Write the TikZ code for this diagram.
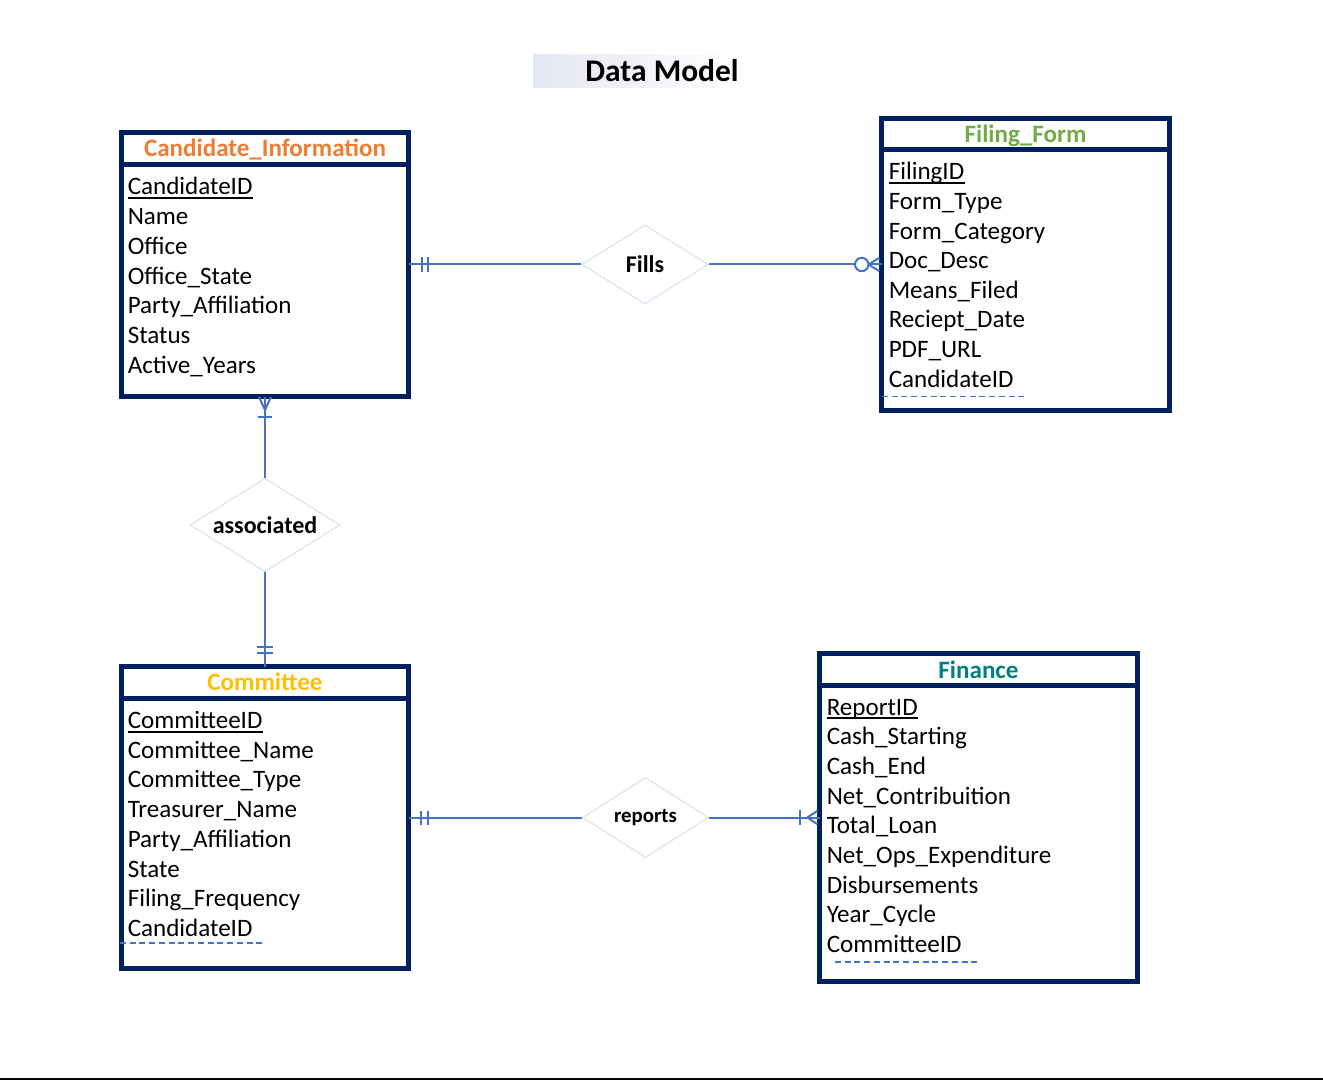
\documentclass[tikz,border=0pt]{standalone}
\usepackage{fontspec}
\setmainfont{Carlito}
\usetikzlibrary{shapes.geometric}
\definecolor{navy}{HTML}{002060}
\definecolor{conblue}{HTML}{4472C4}
\definecolor{hdorange}{HTML}{ED7D31}
\definecolor{hdgreen}{HTML}{70AD47}
\definecolor{hdgold}{HTML}{FFC000}
\definecolor{hdteal}{HTML}{008080}
\definecolor{dmline}{HTML}{DEDFF0}
\definecolor{titlebg}{HTML}{E4E6F2}
\begin{document}
\begin{tikzpicture}[x=0.75pt,y=-0.75pt,
  ebox/.style={draw=navy,line width=3.75pt,inner sep=0pt,outer sep=0pt,fill=white},
  hline/.style={draw=navy,line width=3.75pt},
  hdr/.style={anchor=base,inner sep=0pt,font=\fontsize{18.8}{22}\selectfont\bfseries},
  attr/.style={anchor=base west,inner sep=0pt,font=\fontsize{18.8}{22}\selectfont},
  uline/.style={draw=black,line width=1.5pt},
  fkline/.style={draw=conblue,line width=1.1pt,dash pattern=on 4.5pt off 2.8pt},
  rel/.style={shape=diamond,draw=dmline,line width=0.8pt,fill=white,inner sep=0pt,font=\fontsize{18}{22}\selectfont\bfseries},
  conn/.style={draw=conblue,line width=1.5pt},
  cmark/.style={draw=conblue,line width=1.5pt}
]
\useasboundingbox (0,0) rectangle (1323,1080);
% title
\shade[left color=titlebg,right color=white] (533,55) rectangle (740,88);
\node[anchor=base,inner sep=0pt,font=\fontsize{23.6}{28}\selectfont\bfseries] (title) at (662,82) {Data Model};
% bottom rule
\fill[black] (0,1078.3) rectangle (1323,1080);

% entity boxes
\node[ebox,minimum width=215.25pt,minimum height=198pt] (cand) at (265,264.5) {};
\node[ebox,minimum width=216pt,minimum height=219pt] (filing) at (1025.5,264.5) {};
\node[ebox,minimum width=215.25pt,minimum height=226.5pt] (comm) at (265,817.5) {};
\node[ebox,minimum width=238.5pt,minimum height=246pt] (fin) at (978.5,817.5) {};

% header separators
\draw[hline] (121.5,164.5) -- (408.5,164.5);
\draw[hline] (881.5,150) -- (1169.5,150);
\draw[hline] (121.5,698.5) -- (408.5,698.5);
\draw[hline] (819.5,685) -- (1137.5,685);

% headers
\node[hdr,text=hdorange] (candh) at (265,156.5) {Candidate\_Information};
\node[hdr,text=hdgreen] (filingh) at (1025.5,142.5) {Filing\_Form};
\node[hdr,text=hdgold] (commh) at (265,690.5) {Committee};
\node[hdr,text=hdteal] (finh) at (978.5,678.5) {Finance};

% attributes
\foreach \t [count=\i] in {CandidateID,Name,Office,Office\_State,Party\_Affiliation,Status,Active\_Years}
  \node[attr] (cand-\i) at (127.5,{195+(\i-1)*29.7}) {\t};
\foreach \t [count=\i] in {FilingID,Form\_Type,Form\_Category,Doc\_Desc,Means\_Filed,Reciept\_Date,PDF\_URL,CandidateID}
  \node[attr] (filing-\i) at (888.5,{180+(\i-1)*29.6}) {\t};
\foreach \t [count=\i] in {CommitteeID,Committee\_Name,Committee\_Type,Treasurer\_Name,Party\_Affiliation,State,Filing\_Frequency,CandidateID}
  \node[attr] (comm-\i) at (127.5,{728.5+(\i-1)*29.7}) {\t};
\foreach \t [count=\i] in {ReportID,Cash\_Starting,Cash\_End,Net\_Contribuition,Total\_Loan,Net\_Ops\_Expenditure,Disbursements,Year\_Cycle,CommitteeID}
  \node[attr] (fin-\i) at (826.5,{715+(\i-1)*29.7}) {\t};

% primary key underlines
\foreach \n in {cand-1,filing-1,comm-1,fin-1}
  \draw[uline] ([yshift=-2.4pt]\n.base west) -- ([yshift=-2.4pt]\n.base east);

% foreign key dashed lines
\draw[fkline] (882,396.7) -- (1027,396.7);
\draw[fkline] (120,943) -- (265,943);
\draw[fkline] (835,962) -- (980,962);

% relationships
\node[rel,aspect=1.6,minimum width=95pt,minimum height=59.25pt] (fills) at (645,264.5) {Fills};
\node[rel,aspect=1.61,minimum width=112.5pt,minimum height=70pt] (assoc) at (265,525) {associated};
\node[rel,aspect=1.57,minimum width=94.5pt,minimum height=60pt,font=\fontsize{15.6}{19}\selectfont\bfseries] (reports) at (645.5,817.5) {reports};

% connectors
\draw[conn] (cand.east |- fills.west) -- (fills.west);
\draw[conn] (fills.east) -- (fills.east -| filing.west);
\draw[conn] (cand.south) -- (assoc.north);
\draw[conn] (assoc.south) -- (comm.north);
\draw[conn] (comm.east |- reports.west) -- (reports.west);
\draw[conn] (reports.east) -- (reports.east -| fin.west);

% cardinality marks
% Fills: one and only one (candidate side)
\draw[cmark] (421.7,257) -- (421.7,272);
\draw[cmark] (428.3,257) -- (428.3,272);
% Fills: zero or many (filing side)
\draw[cmark,fill=white] (861.7,264.5) circle[radius=6.7];
\draw[cmark] (868.3,264.5) -- (879.5,257.8);
\draw[cmark] (868.3,264.5) -- (879.5,271.2);
% associated: one or many (candidate side)
\draw[cmark] (265,410) -- (259,397);
\draw[cmark] (265,410) -- (271,397);
\draw[cmark] (257.7,416.7) -- (272.3,416.7);
% associated: one and only one (committee side)
\draw[cmark] (257,646.7) -- (273,646.7);
\draw[cmark] (257,653.3) -- (273,653.3);
% reports: one and only one (committee side)
\draw[cmark] (421.2,810.5) -- (421.2,825);
\draw[cmark] (428.3,810.5) -- (428.3,825);
% reports: one or many (finance side)
\draw[cmark] (800,810) -- (800,825);
\draw[cmark] (807.3,817.5) -- (817.5,810.8);
\draw[cmark] (807.3,817.5) -- (817.5,824.2);
\end{tikzpicture}
\end{document}
